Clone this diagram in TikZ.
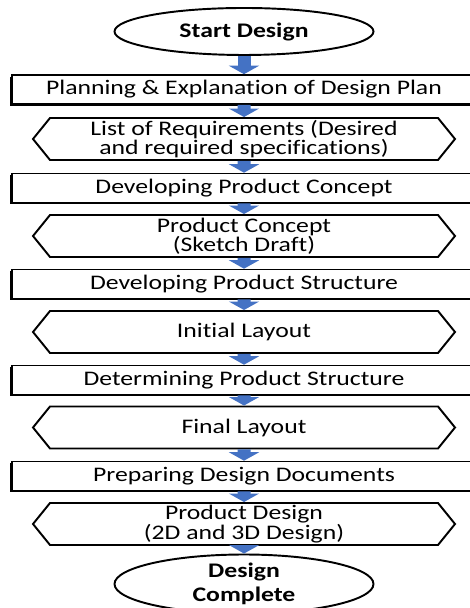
\documentclass[tikz,border=0pt]{standalone}
\usepackage{fontspec}
\setmainfont{Carlito}[FakeStretch=1.24,Ligatures=NoCommon]
\usepackage{tikz}
\usetikzlibrary{positioning,shapes.geometric,shapes.symbols,arrows.meta,shadows}
\definecolor{flowBlue}{HTML}{4472C4}

\begin{document}
\begin{tikzpicture}[
  tnode/.style={draw,ellipse,line width=1.1pt,
                font=\fontsize{11.8}{13.6}\selectfont\bfseries,
                minimum width=5.18cm,minimum height=0.94cm,inner sep=0pt,
                align=center},
  pnode/.style={draw,line width=0.9pt,fill=white,
                drop shadow={shadow xshift=-0.035cm,shadow yshift=-0.035cm,
                             fill=black,opacity=1},
                font=\fontsize{11.8}{13.6}\selectfont,
                minimum width=9.28cm,minimum height=0.58cm,inner sep=0pt},
  onode/.style={draw,signal,signal to=west and east,signal pointer angle=102,
                line width=1.1pt,minimum width=8.44cm,minimum height=0.84cm,
                inner sep=0pt,align=center,
                font=\fontsize{11.8}{10.6}\selectfont},
  arr/.style={-{Triangle[width=0.6cm,length=0.17cm]},line width=0.26cm,
              flowBlue}]

\useasboundingbox (0,0) rectangle (9.38,12.16);

%% Flow steps, top to bottom
\node[tnode] (start) at (4.88,11.53) {Start Design};
\node[pnode] (plan)  at (4.88,10.37) {Planning \& Explanation of Design Plan};
\node[onode] (req)   at (4.88,9.38)  {List of Requirements (Desired\\and required specifications)};
\node[pnode] (dev)   at (4.88,8.40)  {Developing Product Concept};
\node[onode] (conc)  at (4.88,7.44)  {Product Concept\\(Sketch Draft)};
\node[pnode] (struc) at (4.88,6.48)  {Developing Product Structure};
\node[onode] (init)  at (4.88,5.52)  {Initial Layout};
\node[pnode] (det)   at (4.88,4.56)  {Determining Product Structure};
\node[onode] (fin)   at (4.88,3.61)  {Final Layout};
\node[pnode] (doc)   at (4.88,2.64)  {Preparing Design Documents};
\node[onode] (pdes)  at (4.88,1.68)  {Product Design\\(2D and 3D Design)};
\node[tnode,minimum height=1.04cm] (done) at (4.88,0.48) {Design\\Complete};

%% Block arrows between the steps
\draw[arr] (start) -- (plan);
\draw[arr] (plan)  -- (req);
\draw[arr] (req)   -- (dev);
\draw[arr] (dev)   -- (conc);
\draw[arr] (conc)  -- (struc);
\draw[arr] (struc) -- (init);
\draw[arr] (init)  -- (det);
\draw[arr] (det)   -- (fin);
\draw[arr] (fin)   -- (doc);
\draw[arr] (doc)   -- (pdes);
\draw[arr] (pdes)  -- (done);
\end{tikzpicture}
\end{document}
